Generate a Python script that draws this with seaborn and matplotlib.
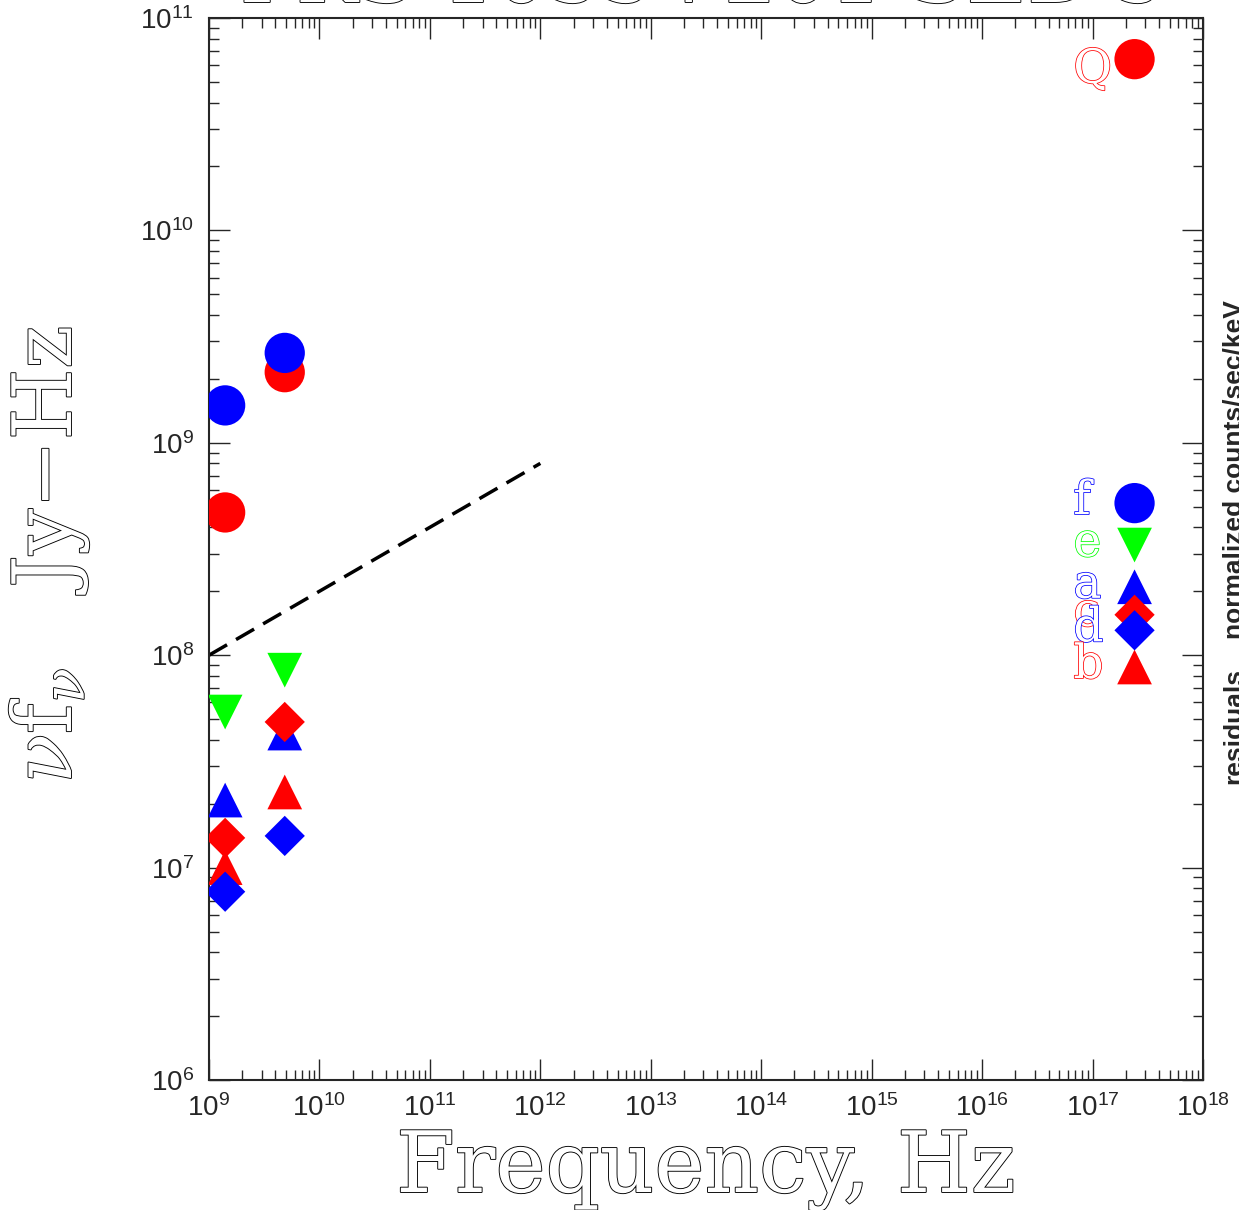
import numpy as np
import pandas as pd
import seaborn as sns
import matplotlib
matplotlib.use("Agg")
import matplotlib.pyplot as plt
import matplotlib.patheffects as pe
from matplotlib.ticker import LogLocator, NullFormatter
from matplotlib.transforms import offset_copy

# frequencies (Hz): 1.4 GHz, 4.85 GHz radio and 1 keV X-ray
radio_freq = [1.4e9, 4.85e9]
xray_freq = 2.4e17

# nu f_nu (Jy-Hz) for each component
q_flux = [4.7e8, 2.15e9]
q_xray = 6.4e10
f_flux = [1.5e9, 2.65e9]
e_flux = [5.4e7, 8.5e7]
a_flux = [2.08e7, 4.3e7]
b_flux = [1.0e7, 2.27e7]
c_flux = [1.38e7, 4.85e7]
d_flux = [7.7e6, 1.41e7]

# key drawn at the X-ray frequency
key_names = ["f", "e", "a", "c", "d", "b"]
key_flux = [5.2e8, 3.3e8, 2.1e8, 1.55e8, 1.31e8, 8.8e7]

# dashed reference line
line_freq = [1e9, 1e12]
line_flux = [1e8, 8e8]

RED, BLUE, GREEN = "#ff0000", "#0000ff", "#00ff00"
styles = {
    "Q": (RED, "o", 29),
    "f": (BLUE, "o", 29),
    "e": (GREEN, "v", 25),
    "a": (BLUE, "^", 25),
    "b": (RED, "^", 25),
    "c": (RED, "D", 20.5),
    "d": (BLUE, "D", 20.5),
}

rows = []
for name, vals in [("Q", q_flux), ("f", f_flux), ("e", e_flux), ("a", a_flux),
                   ("b", b_flux), ("c", c_flux), ("d", d_flux)]:
    for fr, v in zip(radio_freq, vals):
        rows.append((name, fr, v))
rows.append(("Q", xray_freq, q_xray))
df = pd.DataFrame(rows, columns=["comp", "freq", "flux"])
keys = pd.DataFrame({"comp": key_names, "freq": xray_freq, "flux": key_flux})

sns.set_style("ticks")
plt.rcParams["font.family"] = ["Liberation Sans", "DejaVu Sans"]
plt.rcParams["mathtext.fontset"] = "dejavuserif"

fig = plt.figure(figsize=(12.39, 12.10), dpi=100)
ax = fig.add_axes([209 / 1239, 1 - 1080 / 1210, 994 / 1239, 1062 / 1210])

sns.lineplot(x=line_freq, y=line_flux, ax=ax, color="black", lw=2.5,
             dashes=False, linestyle=(0, (6, 3)))

for name in ["Q", "f", "e", "a", "b", "c", "d"]:
    color, marker, ms = styles[name]
    sub = pd.concat([df[df.comp == name], keys[keys.comp == name]])
    sns.scatterplot(data=sub, x="freq", y="flux", ax=ax, color=color,
                    marker=marker, s=ms ** 2, edgecolor="none", zorder=3)

ax.set_xscale("log")
ax.set_yscale("log")
ax.set_xlim(1e9, 1e18)
ax.set_ylim(1e6, 1e11)
ax.set_xlabel("")
ax.set_ylabel("")

for axis in (ax.xaxis, ax.yaxis):
    axis.set_major_locator(LogLocator(base=10, numticks=20))
    axis.set_minor_locator(LogLocator(base=10, subs=np.arange(2, 10), numticks=20))
    axis.set_minor_formatter(NullFormatter())
ax.tick_params(which="both", direction="in", top=True, right=True, width=1.0)
ax.tick_params(which="major", length=15, labelsize=20)
ax.tick_params(which="minor", length=7)
ax.tick_params(axis="x", pad=10)
ax.tick_params(axis="y", pad=11)
for sp in ax.spines.values():
    sp.set_linewidth(1.5)


def hollow(color, lw=1.3):
    return dict(color="white", family="DejaVu Serif", weight="light",
                path_effects=[pe.withStroke(linewidth=lw, foreground=color)])


# key labels
lab_tr = offset_copy(ax.transData, fig=fig, x=0, y=-8, units="points")
for name, y in zip(key_names, key_flux):
    ax.text(6.7e16, y, name, fontsize=34, ha="left", va="baseline",
            transform=lab_tr, **hollow(styles[name][0], 1.1))
ax.text(6.7e16, q_xray, "Q", fontsize=34, ha="left", va="baseline",
        transform=offset_copy(ax.transData, fig=fig, x=0, y=-17, units="points"),
        **hollow(RED, 1.1))

# axis labels and title in hollow roman
fig.text(706 / 1239, 1 - 1192 / 1210, "Frequency, Hz", fontsize=61,
         ha="center", va="baseline", **hollow("black"))
fig.text(71 / 1239, 1 - 555 / 1210, r"$\nu$f$_\nu$   Jy$-$Hz", fontsize=59,
         rotation=90, rotation_mode="anchor", ha="center", va="baseline",
         **hollow("black"))
fig.text(700 / 1239, 1 - 2 / 1210, "PKS 1055+201 SED's", fontsize=60,
         ha="center", va="baseline", **hollow("black"))

# labels of the neighbouring panel, clipped at the edge
fig.text(1241 / 1239, 1 - 726 / 1210, "residuals", fontsize=19, weight="bold",
         rotation=90, rotation_mode="anchor", ha="center", va="baseline")
fig.text(1241 / 1239, 1 - 470 / 1210, "normalized counts/sec/keV", fontsize=19,
         weight="bold", rotation=90, rotation_mode="anchor", ha="center",
         va="baseline")

fig.savefig("out.png", dpi=100)
